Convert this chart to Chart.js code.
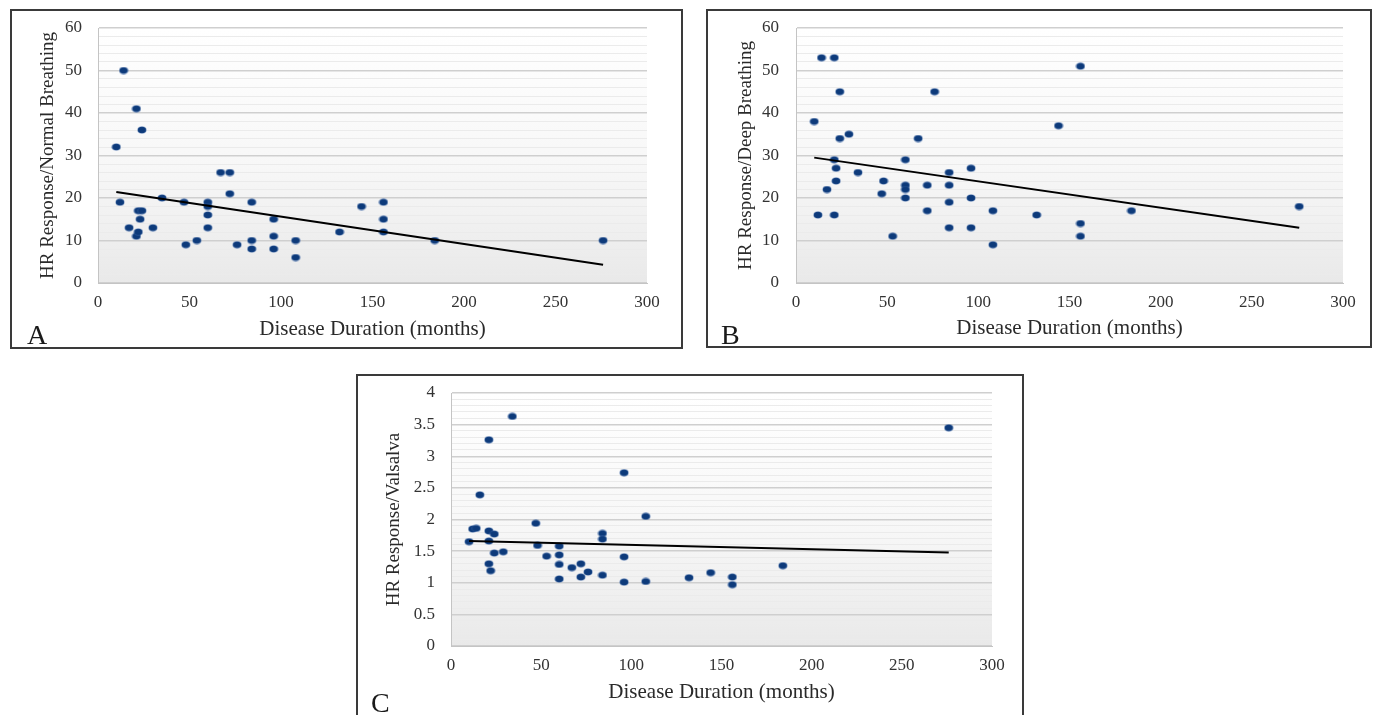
<!DOCTYPE html>
<html>
<head>
<meta charset="utf-8">
<script src="https://cdn.jsdelivr.net/npm/chart.js@4.4.1/dist/chart.umd.min.js"></script>
<style>
html,body{margin:0;padding:0;background:#fff;}
body{width:1379px;height:715px;position:relative;overflow:hidden;font-family:"Liberation Serif","Times New Roman",serif;}
.box{position:absolute;border:2px solid #3a3a3a;box-sizing:border-box;}
canvas{position:absolute;}
.lab{position:absolute;font-size:28px;line-height:28px;color:#1a1a1a;font-family:"Liberation Serif","Times New Roman",serif;}
</style>
</head>
<body>
<div class="box" style="left:10px;top:9px;width:673px;height:340px"></div>
<div class="box" style="left:706px;top:9px;width:666px;height:339px"></div>
<div class="box" style="left:356px;top:374px;width:668px;height:345px"></div>
<canvas id="chartA" width="668" height="336" style="left:12px;top:11px"></canvas>
<canvas id="chartB" width="662" height="335" style="left:708px;top:11px"></canvas>
<canvas id="chartC" width="664" height="339" style="left:358px;top:376px"></canvas>
<div class="lab" style="left:27px;top:321px">A</div>
<div class="lab" style="left:721px;top:321px">B</div>
<div class="lab" style="left:371px;top:689px">C</div>
<script>
// ---- data ----
const xTickLabels = [0, 50, 100, 150, 200, 250, 300];
const yTickLabelsAB = [0, 10, 20, 30, 40, 50, 60];
const yTickLabelsC = [0, 0.5, 1, 1.5, 2, 2.5, 3, 3.5, 4];

// A: HR Response / Normal Breathing
const durationA = [14,21,24,10,67,72,72,12,35,47,60,60,60,60,84,22,24,23,17,30,21,22,48,54,76,84,84,96,96,96,108,108,132,144,156,156,156,184,276];
const normalA   = [50,41,36,32,26,26,21,19,20,19,19,18,16,13,19,17,17,15,13,13,11,12,9,10,9,10,8,15,11,8,10,6,12,18,19,15,12,10,10];
const trendXA = [10, 276];
const trendYA = [21.4, 4.3];

// B: HR Response / Deep Breathing
const durationB = [14,21,24,76,10,24,29,67,21,60,22,96,34,84,22,48,17,60,60,72,84,47,60,96,84,12,21,72,108,132,53,84,96,108,156,144,156,156,184,276];
const deepB     = [53,53,45,45,38,34,35,34,29,29,27,27,26,26,24,24,22,23,22,23,23,21,20,20,19,16,16,17,17,16,11,13,13,9,51,37,14,11,17,18];
const trendXB = [10, 276];
const trendYB = [29.5, 13.0];

// C: HR Response / Valsalva
const durationC = [34,21,16,96,108,47,12,14,21,24,10,21,84,84,48,60,24,29,53,60,96,21,22,60,67,72,72,76,84,60,96,108,132,144,156,156,184,276];
const valsalvaC = [3.63,3.26,2.39,2.74,2.05,1.94,1.85,1.86,1.82,1.77,1.65,1.66,1.78,1.69,1.59,1.58,1.47,1.49,1.42,1.44,1.41,1.30,1.19,1.29,1.24,1.30,1.09,1.17,1.12,1.06,1.01,1.02,1.08,1.16,1.09,0.97,1.27,3.45];
const trendXC = [10, 276];
const trendYC = [1.66, 1.48];

// ---- helpers ----
function pairs(xs, ys) { return xs.map((x, i) => ({x: x, y: ys[i]})); }

function makeDot() {
  const c = document.createElement('canvas');
  c.width = 10; c.height = 8;
  const g = c.getContext('2d');
  g.beginPath();
  g.ellipse(5, 4, 4.2, 3.3, 0, 0, Math.PI * 2);
  g.fillStyle = '#0d3a7a';
  g.fill();
  g.lineWidth = 0.8;
  g.strokeStyle = 'rgba(70,110,175,0.55)';
  g.stroke();
  return c;
}
const dot = makeDot();

const plotBg = {
  id: 'plotBg',
  beforeDraw(chart) {
    const a = chart.chartArea, ctx = chart.ctx;
    const g = ctx.createLinearGradient(0, a.top, 0, a.bottom);
    g.addColorStop(0, '#ffffff');
    g.addColorStop(0.55, '#f7f7f7');
    g.addColorStop(1, '#e9e9e9');
    ctx.save();
    ctx.fillStyle = g;
    ctx.fillRect(a.left, a.top, a.right - a.left, a.bottom - a.top);
    ctx.restore();
  }
};

const FONT = '"Liberation Serif", "Times New Roman", serif';

function makePanel(id, s) {
  const isLabel = v => s.yLabels.some(t => Math.abs(t - v) < 1e-6);
  return new Chart(document.getElementById(id), {
    type: 'scatter',
    data: {
      datasets: [
        {type: 'line', data: pairs(s.trendX, s.trendY), borderColor: '#000000', borderWidth: 2,
         pointRadius: 0, fill: false, order: 0, tension: 0},
        {data: pairs(s.xs, s.ys), pointStyle: dot, pointRadius: 4, order: 1}
      ]
    },
    options: {
      responsive: false, animation: false, events: [],
      layout: {padding: {top: s.padTop, right: s.padRight, bottom: 0, left: 0}},
      plugins: {legend: {display: false}, tooltip: {enabled: false}},
      scales: {
        x: {
          type: 'linear', min: 0, max: 300,
          afterFit: sc => { sc.height = s.xHeight; },
          ticks: {stepSize: 50, padding: 9, color: '#333333', font: {family: FONT, size: 17},
                  maxRotation: 0, autoSkip: false,
                  callback: v => xTickLabels.includes(v) ? String(v) : ''},
          grid: {display: false, drawTicks: false},
          border: {display: true, color: '#c4c4c4', width: 1},
          title: {display: true, text: 'Disease Duration (months)', color: '#2a2a2a',
                  font: {family: FONT, size: 21}, padding: {top: 0, bottom: s.xTitlePad}}
        },
        y: {
          type: 'linear', min: 0, max: s.yMax,
          afterFit: sc => { sc.width = s.yWidth; sc.paddingTop = 0; sc.paddingBottom = 0; },
          ticks: {stepSize: s.yStep, maxTicksLimit: 100, autoSkip: false, padding: s.yTickPad,
                  color: '#333333', font: {family: FONT, size: 17},
                  callback: v => isLabel(v) ? String(Math.round(v * 10) / 10) : ''},
          grid: {drawTicks: false,
                 color: c => (c.tick && isLabel(c.tick.value)) ? '#cfcfcf' : '#ebebeb',
                 lineWidth: c => (c.tick && isLabel(c.tick.value)) ? 1.5 : 1},
          border: {display: true, color: '#c4c4c4', width: 1},
          title: {display: true, text: s.yTitle, color: '#2a2a2a',
                  font: {family: FONT, size: 19}, padding: {top: s.yTitlePad, bottom: 0}}
        }
      }
    },
    plugins: [plotBg]
  });
}

makePanel('chartA', {
  xs: durationA, ys: normalA, trendX: trendXA, trendY: trendYA,
  yMax: 60, yStep: 2, yLabels: yTickLabelsAB, yTitle: 'HR Response/Normal Breathing',
  padTop: 17, padRight: 33, xHeight: 64, yWidth: 86, yTickPad: 16, yTitlePad: 25, xTitlePad: 5
});
makePanel('chartB', {
  xs: durationB, ys: deepB, trendX: trendXB, trendY: trendYB,
  yMax: 60, yStep: 2, yLabels: yTickLabelsAB, yTitle: 'HR Response/Deep Breathing',
  padTop: 17, padRight: 27, xHeight: 63, yWidth: 88, yTickPad: 17, yTitlePad: 27, xTitlePad: 5
});
makePanel('chartC', {
  xs: durationC, ys: valsalvaC, trendX: trendXC, trendY: trendYC,
  yMax: 4, yStep: 0.1, yLabels: yTickLabelsC, yTitle: 'HR Response/Valsalva',
  padTop: 17, padRight: 30, xHeight: 69, yWidth: 93, yTickPad: 16, yTitlePad: 25, xTitlePad: 10
});
</script>
</body>
</html>
